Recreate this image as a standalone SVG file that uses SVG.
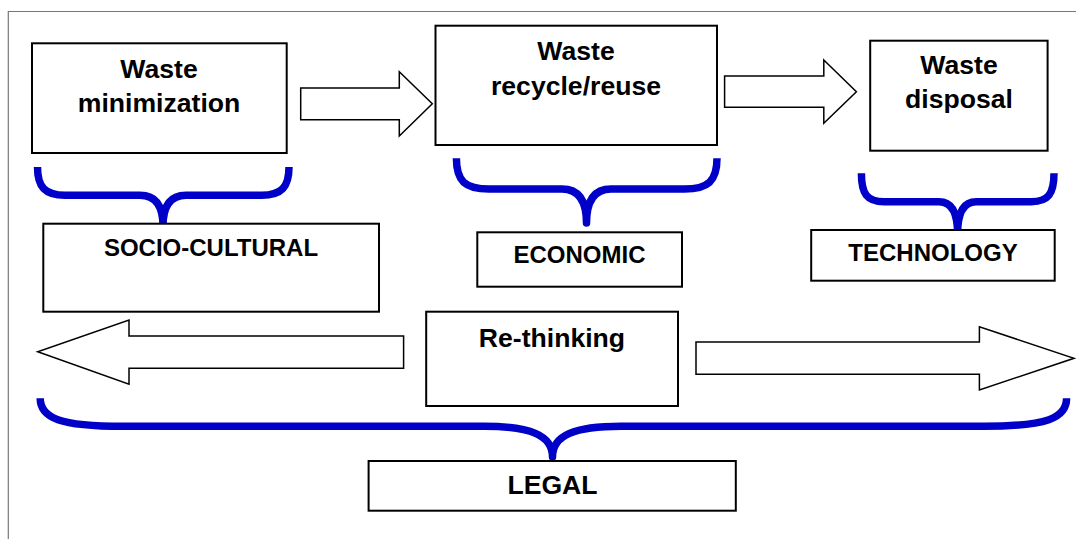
<svg xmlns="http://www.w3.org/2000/svg" width="1076" height="539" viewBox="0 0 1076 539">
<style>
.box{fill:#fff;stroke:#000;stroke-width:2}
.arr{fill:#fff;stroke:#000;stroke-width:1.5;stroke-linejoin:miter}
.brace{fill:none;stroke:#0000C8;stroke-width:7.5;stroke-linejoin:round;stroke-linecap:butt}
.t{font-family:"Liberation Sans",Arial,sans-serif;font-weight:bold;text-anchor:middle;fill:#000}
.t1{font-size:26.6px}
.t2{font-size:24px}
</style>
<rect width="1076" height="539" fill="#fff"/>
<path d="M8.3,539 L8.3,11.5 L1076,11.5" fill="none" stroke="#777" stroke-width="1.2"/>
<g id="connectors">
<path class="arr" d="M300.7,88 L399.3,88 L399.3,71.7 L432.3,103.8 L399.3,136 L399.3,119.7 L300.7,119.7 Z"/>
<path class="arr" d="M724.6,76 L823.8,76 L823.8,60 L856.4,91.7 L823.8,123.3 L823.8,107.3 L724.6,107.3 Z"/>
<path class="arr" d="M403.6,336 L129,336 L129,320 L37.7,351.7 L129,384.3 L129,368.3 L403.6,368.3 Z"/>
<path class="arr" d="M696,342 L979.4,342 L979.4,326.7 L1074,358.3 L979.4,390 L979.4,374.3 L696,374.3 Z"/>
<path class="brace" d="M37.5,167 C37.5,187 45,195.3 65,195.3 L140,195.3 C155,195.3 163,205 163,226 C163,205 171,195.3 186,195.3 L261.5,195.3 C281.5,195.3 289,187 289,167"/>
<path class="brace" d="M456.4,158.3 C456.4,181 465,189 489,189 L562,189 C578,189 586.5,200 586.5,223 C586.5,200 595,189 611,189 L684.4,189 C708,189 717,181 717,158.3"/>
<path class="brace" d="M861.4,173.3 C861.4,194 867,201.7 884,201.7 L939,201.7 C951,201.7 957.6,212 957.6,233.5 C957.6,212 964,201.7 976.2,201.7 L1031.4,201.7 C1048,201.7 1054,194 1054,173.3"/>
<path class="brace" d="M40.2,398.3 C40.2,418 60,426.3 123,426.3 L484,426.3 C530,426.3 552.5,435 552.5,457 C552.5,435 575,426.3 621,426.3 L983.6,426.3 C1047,426.3 1066.6,418 1066.6,398.3"/>
</g>
<g id="waste-minimization">
<rect class="box" x="32" y="43.3" width="254.7" height="109.7"/>
<text class="t t1" x="159" y="77.5">Waste</text>
<text class="t t1" x="159" y="112.3">minimization</text>
</g>
<g id="waste-recycle">
<rect class="box" x="435.5" y="25.7" width="281.5" height="119.3"/>
<text class="t t1" x="576" y="60">Waste</text>
<text class="t t1" x="576" y="94.5">recycle/reuse</text>
</g>
<g id="waste-disposal">
<rect class="box" x="870.2" y="40.7" width="177.4" height="110"/>
<text class="t t1" x="959" y="73.5">Waste</text>
<text class="t t1" x="959" y="108">disposal</text>
</g>
<g id="socio-cultural">
<rect class="box" x="43.3" y="223.7" width="335.7" height="88"/>
<text class="t t2" x="211" y="255.7">SOCIO-CULTURAL</text>
</g>
<g id="economic">
<rect class="box" x="477.3" y="232.3" width="204.7" height="54.4"/>
<text class="t t2" x="579.5" y="263.3">ECONOMIC</text>
</g>
<g id="technology">
<rect class="box" x="811.2" y="230" width="243.5" height="50.7"/>
<text class="t t2" x="933" y="261">TECHNOLOGY</text>
</g>
<g id="re-thinking">
<rect class="box" x="426.2" y="311.7" width="251.8" height="94.3"/>
<text class="t t1" x="552" y="346.5">Re-thinking</text>
</g>
<g id="legal">
<rect class="box" x="368.6" y="461" width="367.2" height="49.7"/>
<text class="t t1" x="552.5" y="494.3">LEGAL</text>
</g>
</svg>
